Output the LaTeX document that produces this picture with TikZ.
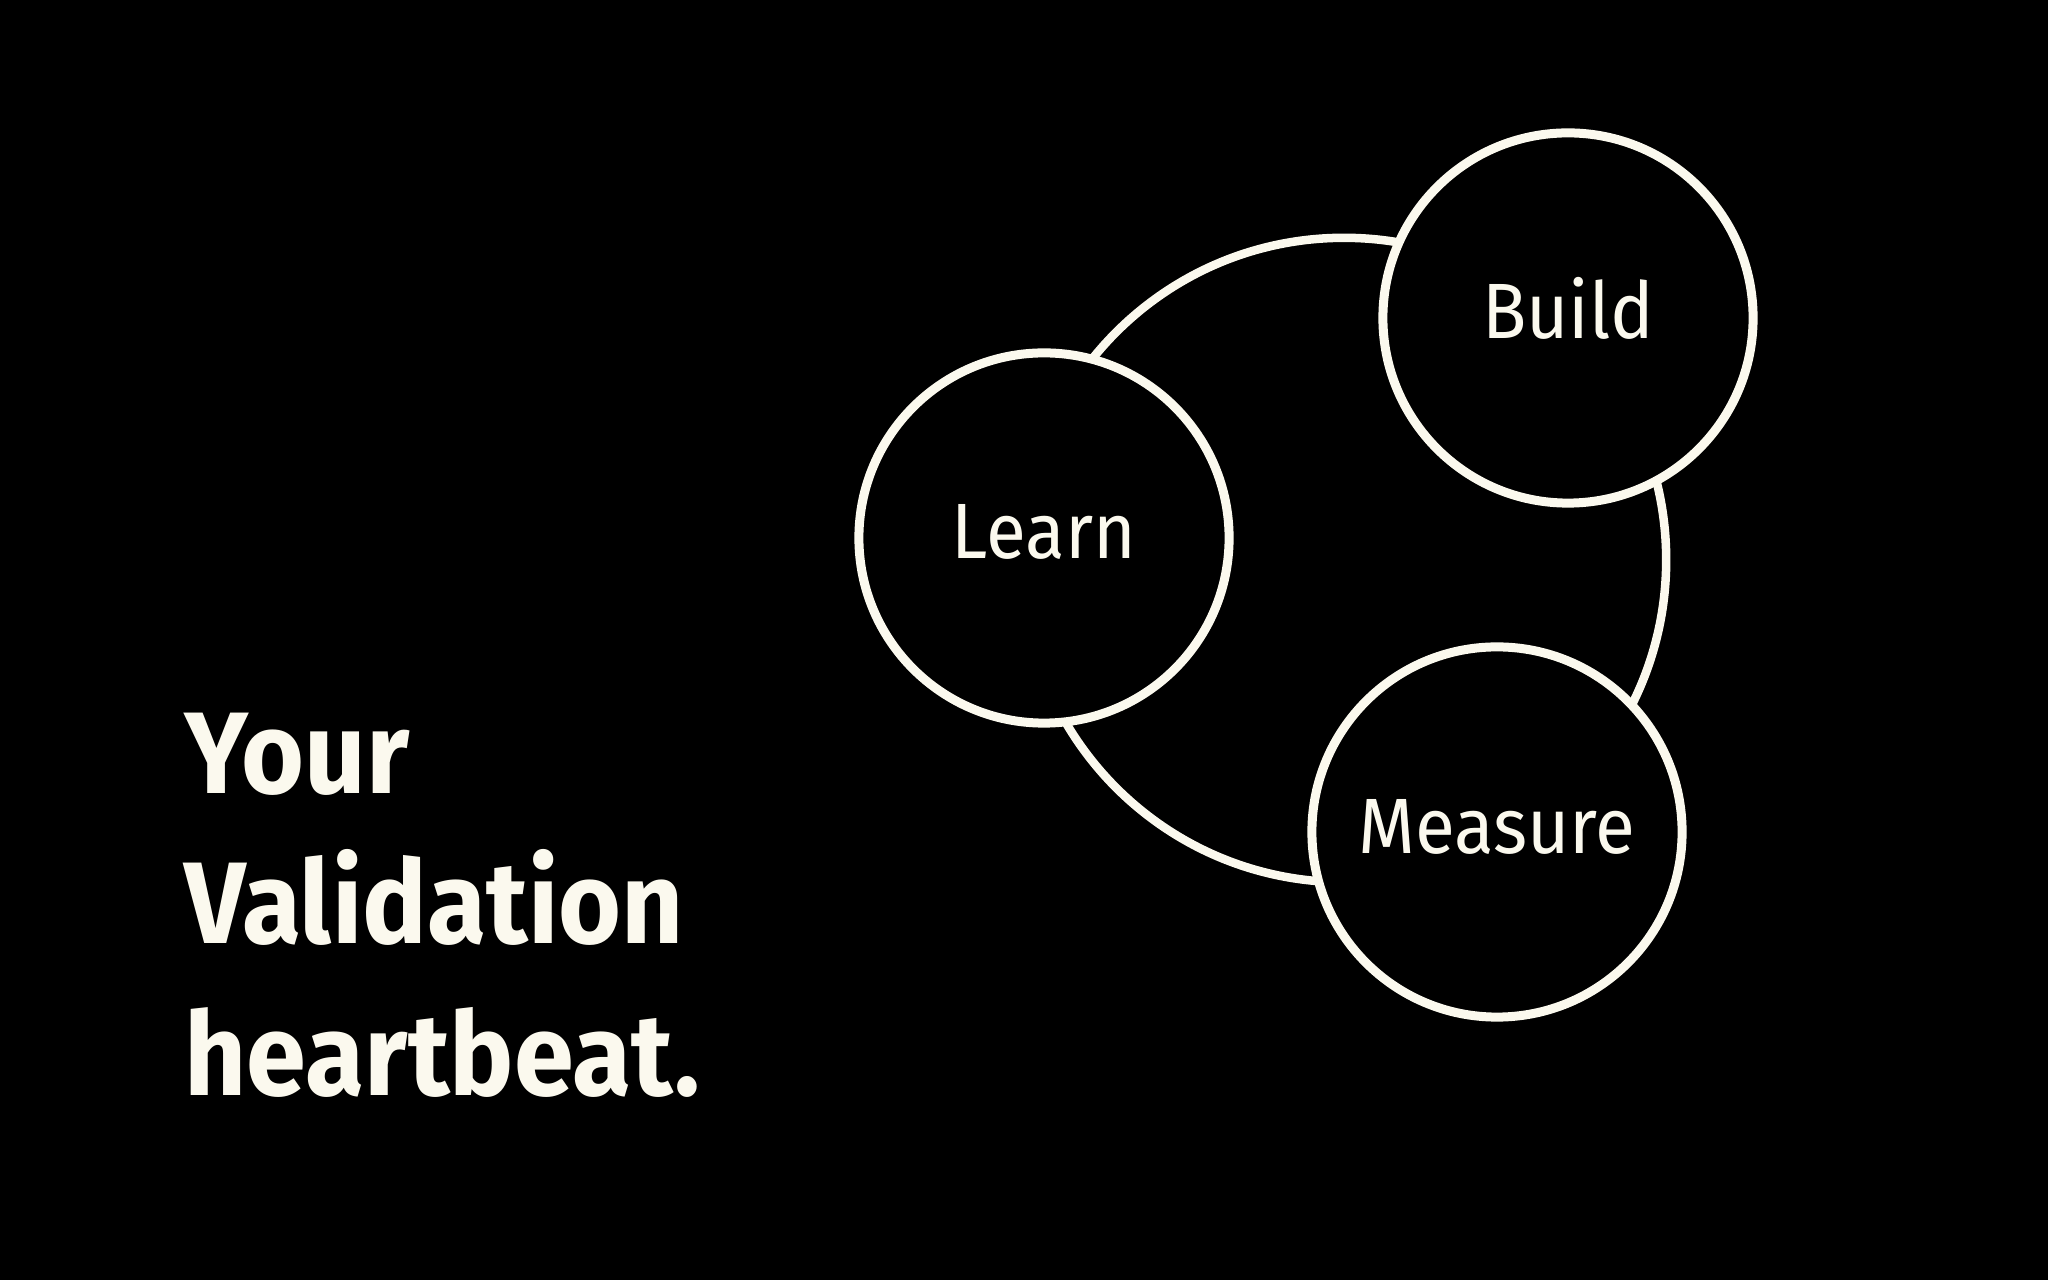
\documentclass[tikz,border=0pt]{standalone}
\usepackage{fontspec}
\usepackage{graphicx}
\setmainfont{Fira Sans}
\definecolor{fg}{HTML}{FBF9EE}
\definecolor{bg}{HTML}{000000}
\newcommand{\narrowtxt}[1]{\scalebox{0.93}[1]{#1}}
\tikzset{
  stage/.style={circle, draw=fg, fill=bg, line width=0.09cm, minimum size=3.7cm,
    inner sep=0pt, text=fg, font=\fontsize{22.3pt}{26pt}\selectfont,
    text height=0.5cm, text depth=0.08cm},
  loopring/.style={draw=fg, line width=0.085cm},
  title/.style={anchor=base west, inner sep=0pt, text=fg,
    font=\fontsize{33pt}{43pt}\selectfont\bfseries}
}
\begin{document}
\begin{tikzpicture}[x=0.01cm, y=-0.01cm]
  \fill[bg] (0,0) rectangle (2048,1280);
  \useasboundingbox (0,0) rectangle (2048,1280);
  % cycle ring behind the stages
  \coordinate (hub) at (1344,560);
  \draw[loopring] (hub) circle[radius=3.22cm];
  % stages
  \node[stage] (learn)   at (1044,538) {\narrowtxt{Learn}};
  \node[stage] (build)   at (1568,318) {\narrowtxt{Build}};
  \node[stage] (measure) at (1497,832) {\narrowtxt{Measure}};
  % title
  \node[title] (t1) at (184,794)  {\narrowtxt{Your}};
  \node[title] (t2) at (184,944)  {\narrowtxt{Validation}};
  \node[title] (t3) at (184,1096) {\narrowtxt{heartbeat.}};
\end{tikzpicture}
\end{document}
